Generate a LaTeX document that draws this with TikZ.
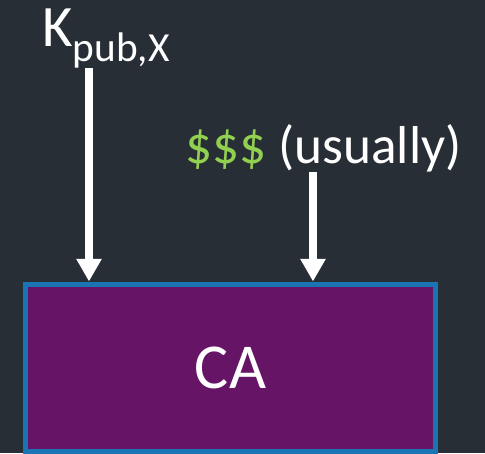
\documentclass[tikz,border=0pt]{standalone}
\usepackage{fontspec}
\setmainfont{Carlito}
\usetikzlibrary{arrows.meta,positioning}

\definecolor{slidebg}{HTML}{282E36}
\definecolor{capurple}{HTML}{661466}
\definecolor{caborder}{HTML}{1A75B5}
\definecolor{moneygreen}{HTML}{92D050}

\begin{document}
\begin{tikzpicture}[x=0.75pt, y=-0.75pt]
\tikzset{
	    cabox/.style={rectangle, draw=caborder, fill=capurple, line width=3.75pt, minimum width=307.5pt, minimum height=125.25pt, inner sep=0pt, text=white, font=\fontsize{48}{50}\selectfont},
	    inarrow/.style={-{Triangle[width=18pt, length=17pt]}, draw=white, line width=5.5pt},
	    mylabel/.style={text=white, inner sep=0pt, anchor=base west, font=\fontsize{44}{46}\selectfont}
	}
	\fill[slidebg] (0,0) rectangle (485,453);
	\useasboundingbox (0,0) rectangle (485,453);

	\node[cabox] (ca) at (230.5,367.5) {CA};
	\node[mylabel] (kpub) at (42,47) {K\raisebox{-10.5pt}{\fontsize{31}{33}\selectfont pub,X}};
	\node[mylabel, font=\fontsize{40}{42}\selectfont] (fee) at (185,163) {\textcolor{moneygreen}{\$\$\$} (usually)};

	\draw[inarrow] ([xshift=35.25pt]kpub.south west) -- ([xshift=35.25pt]kpub.south west |- ca.north);
	\draw[inarrow] ([xshift=96pt]fee.south west) -- ([xshift=96pt]fee.south west |- ca.north);

\end{tikzpicture}
\end{document}
